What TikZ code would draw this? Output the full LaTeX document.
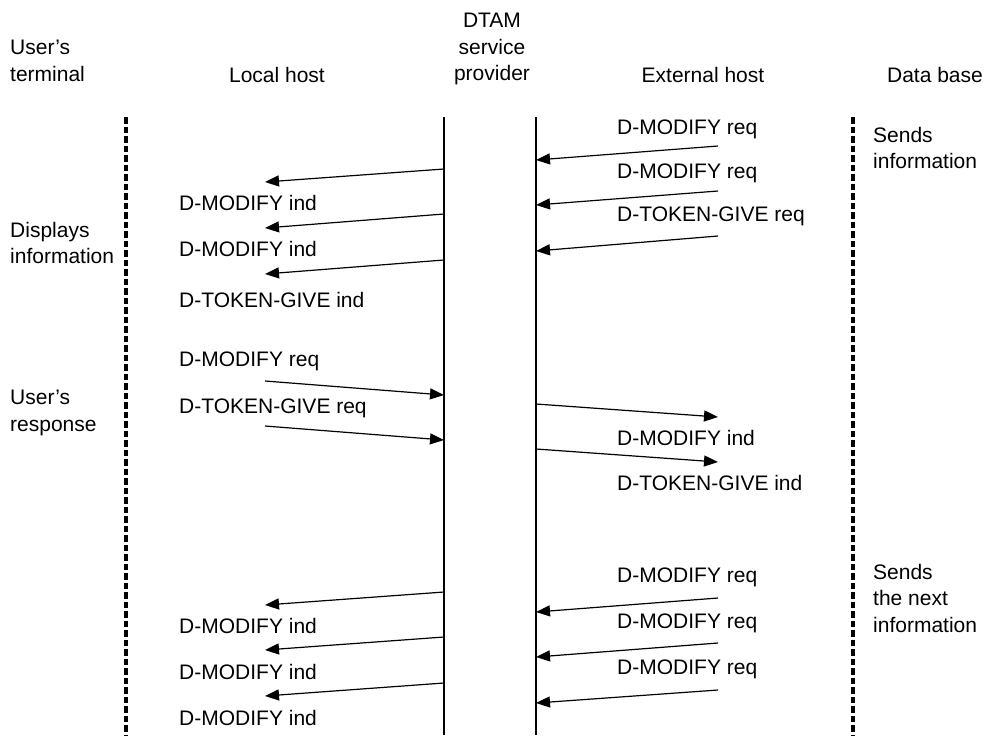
\documentclass[tikz,border=0pt]{standalone}
\usepackage{fontspec}
\setmainfont{Liberation Sans}
\usetikzlibrary{arrows.meta}
\tikzset{
  lbl/.style={inner sep=0pt, font=\fontsize{21}{26.5}\selectfont},
  lifeline/.style={line width=1.8pt},
  envline/.style={line width=3.4pt, dash pattern=on 6.5pt off 3pt},
  msg/.style={line width=1.2pt, -{Triangle[length=14pt,width=11pt]}}
}
\begin{document}
\begin{tikzpicture}[x=1pt,y=-1pt]
\useasboundingbox (0,0) rectangle (995,740);
\fill[white] (0,0) rectangle (995,740);

% headers
\node[lbl, anchor=north west, align=left] (hterm) at (10,40) {User’s\\terminal};
\node[lbl, anchor=base] (hlocal) at (277,82) {Local host};
\node[lbl, anchor=north, align=center] (hdtam) at (492,13) {DTAM\\service\\provider};
\node[lbl, anchor=base] (hext) at (703,82) {External host};
\node[lbl, anchor=base] (hdb) at (935,82) {Data base};

% lifelines
\coordinate (UT) at (126,117); \coordinate (UB) at (126,735);
\coordinate (LT) at (444,117); \coordinate (LB) at (444,735);
\coordinate (ET) at (536,117); \coordinate (EB) at (536,735);
\coordinate (DT) at (853,117); \coordinate (DB) at (853,735);
\draw[envline] (UT) -- (UB);
\draw[lifeline] (LT) -- (LB);
\draw[lifeline] (ET) -- (EB);
\draw[envline] (DT) -- (DB);

% side labels
\node[lbl, anchor=north west, align=left] (disp) at (10,222) {Displays\\information};
\node[lbl, anchor=north west, align=left] (resp) at (10,390) {User’s\\response};
\node[lbl, anchor=north west, align=left] (send1) at (873,127) {Sends\\information};
\node[lbl, anchor=north west, align=left] (send2) at (873,564) {Sends\\the next\\information};

% arrow end points
\coordinate (r1s) at (718,146); \coordinate (r1e) at (536,160);
\coordinate (r2s) at (718,191); \coordinate (r2e) at (536,205);
\coordinate (r3s) at (718,236); \coordinate (r3e) at (536,251);
\coordinate (l1s) at (444,169); \coordinate (l1e) at (265,182);
\coordinate (l2s) at (444,214); \coordinate (l2e) at (265,228);
\coordinate (l3s) at (444,260); \coordinate (l3e) at (265,274);
\coordinate (q1s) at (265,381); \coordinate (q1e) at (444,395);
\coordinate (q2s) at (265,426); \coordinate (q2e) at (444,440);
\coordinate (i1s) at (536,404); \coordinate (i1e) at (718,417);
\coordinate (i2s) at (536,449); \coordinate (i2e) at (718,462);
\coordinate (r4s) at (718,598); \coordinate (r4e) at (536,612);
\coordinate (r5s) at (718,643); \coordinate (r5e) at (536,657);
\coordinate (r6s) at (718,690); \coordinate (r6e) at (536,703);
\coordinate (l4s) at (444,592); \coordinate (l4e) at (265,605);
\coordinate (l5s) at (444,637); \coordinate (l5e) at (265,650);
\coordinate (l6s) at (444,683); \coordinate (l6e) at (265,696);

\foreach \a in {r1,r2,r3,l1,l2,l3,q1,q2,i1,i2,r4,r5,r6,l4,l5,l6}
  \draw[msg] (\a s) -- (\a e);

% message labels
\node[lbl, anchor=base west] (tr1) at (617,134) {D-MODIFY req};
\node[lbl, anchor=base west] (tr2) at (617,178) {D-MODIFY req};
\node[lbl, anchor=base west] (tr3) at (617,221) {D-TOKEN-GIVE req};
\node[lbl, anchor=base west] (tl1) at (179,210) {D-MODIFY ind};
\node[lbl, anchor=base west] (tl2) at (179,256) {D-MODIFY ind};
\node[lbl, anchor=base west] (tl3) at (179,307) {D-TOKEN-GIVE ind};
\node[lbl, anchor=base west] (tq1) at (179,366) {D-MODIFY req};
\node[lbl, anchor=base west] (tq2) at (179,413) {D-TOKEN-GIVE req};
\node[lbl, anchor=base west] (ti1) at (617,445) {D-MODIFY ind};
\node[lbl, anchor=base west] (ti2) at (617,490) {D-TOKEN-GIVE ind};
\node[lbl, anchor=base west] (tr4) at (617,582) {D-MODIFY req};
\node[lbl, anchor=base west] (tr5) at (617,628) {D-MODIFY req};
\node[lbl, anchor=base west] (tr6) at (617,674) {D-MODIFY req};
\node[lbl, anchor=base west] (tl4) at (179,633) {D-MODIFY ind};
\node[lbl, anchor=base west] (tl5) at (179,679) {D-MODIFY ind};
\node[lbl, anchor=base west] (tl6) at (179,725) {D-MODIFY ind};
\end{tikzpicture}
\end{document}
